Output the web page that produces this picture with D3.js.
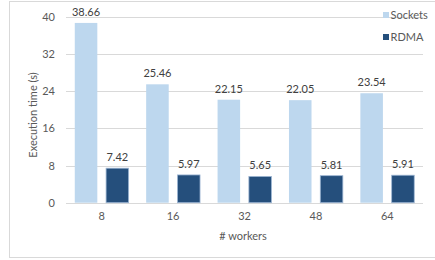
<!DOCTYPE html>
<html><head><meta charset="utf-8">
<script src="https://cdn.jsdelivr.net/npm/d3@7"></script>
<style>
body{margin:0;background:#fff;}
svg{display:block;font-family:Lato, "Open Sans", sans-serif;}
</style></head>
<body><svg id="c" width="435" height="260"></svg>
<script>
const categories = ["8","16","32","48","64"];
const seriesNames = ["Sockets","RDMA"];
const sockets = [38.66,25.46,22.15,22.05,23.54];
const rdma = [7.42,5.97,5.65,5.81,5.91];
const yTicks = [0,8,16,24,32,40];
const colors = ["#BDD7EE","#254F7C"];

(function(){
const svg = d3.select("#c");
svg.append("rect").attr("x",9.5).attr("y",1.5).attr("width",440).attr("height",256)
  .attr("fill","#fff").attr("stroke","#d9d9d9").attr("stroke-width",1);

const pL=66, pR=423, pT=16.7, pB=202.7;
const x = d3.scaleBand().domain(categories).range([pL,pR]);
const y = d3.scaleLinear().domain([0,40]).range([pB,pT]);

svg.append("g").selectAll("line").data(yTicks).join("line")
  .attr("x1",pL).attr("x2",pR)
  .attr("y1",d=>Math.round(y(d))+0.5).attr("y2",d=>Math.round(y(d))+0.5)
  .attr("stroke","#d9d9d9").attr("stroke-width",1);

const yAxis = svg.append("g").attr("transform",`translate(${pL},0)`)
  .call(d3.axisLeft(y).tickValues(yTicks).tickSize(0).tickPadding(11));
yAxis.select(".domain").remove();
yAxis.selectAll("text").attr("fill","#595959").style("font-size","11px").style("font-family","Lato, sans-serif");

const xAxis = svg.append("g").attr("transform",`translate(0,${pB})`)
  .call(d3.axisBottom(x).tickSize(0).tickPadding(10));
xAxis.select(".domain").remove();
xAxis.selectAll("text").attr("fill","#595959").style("font-size","11px").style("font-family","Lato, sans-serif");

const bw = x.bandwidth();
const x1 = d3.scaleBand().domain(seriesNames).range([0,bw]).paddingInner(0.28).paddingOuter(0.28);
const data = [sockets, rdma];

seriesNames.forEach((s,i)=>{
  const g = svg.append("g");
  g.selectAll("rect").data(data[i]).join("rect")
    .attr("x",(d,j)=>x(categories[j])+x1(s))
    .attr("y",d=>y(d))
    .attr("width",x1.bandwidth())
    .attr("height",d=>pB-y(d))
    .attr("fill",colors[i])
    .attr("stroke", i===1 ? "#9DB6D3" : "none")
    .attr("stroke-width",0.8);
  g.selectAll("text").data(data[i]).join("text")
    .attr("x",(d,j)=>x(categories[j])+x1(s)+x1.bandwidth()/2)
    .attr("y",d=>y(d)-7)
    .attr("text-anchor","middle")
    .attr("fill","#404040").style("font-size","11px")
    .text(d=>d.toFixed(2));
});

svg.append("text").attr("transform",`translate(37,115) rotate(-90)`)
  .attr("text-anchor","middle").attr("fill","#595959").style("font-size","11px")
  .text("Execution time (s)");
svg.append("text").attr("x",243).attr("y",240).attr("text-anchor","middle")
  .attr("fill","#595959").style("font-size","11px").text("# workers");

const leg = svg.append("g");
seriesNames.forEach((s,i)=>{
  const ly = 15 + i*22;
  leg.append("rect").attr("x",383).attr("y",ly-3).attr("width",6).attr("height",6).attr("fill",colors[i]);
  leg.append("text").attr("x",390.5).attr("y",ly+4).attr("fill","#595959").style("font-size","11px").text(s);
});
})();
</script></body></html>
